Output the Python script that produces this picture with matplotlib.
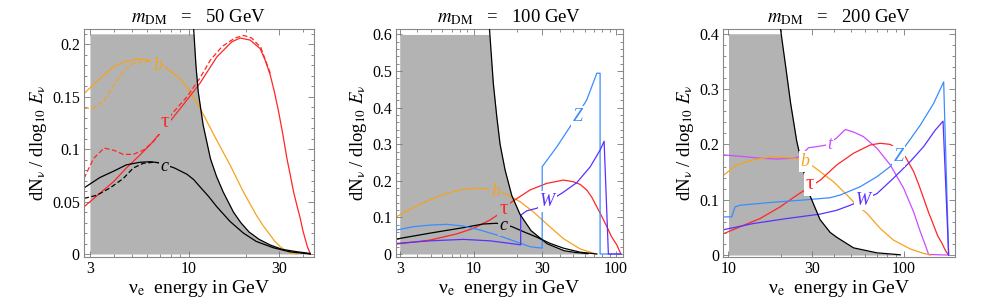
import numpy as np
import matplotlib
matplotlib.use("Agg")
import matplotlib.pyplot as plt
from matplotlib.ticker import FixedLocator, LogLocator, MultipleLocator, NullFormatter

plt.rcParams['font.family'] = ['Liberation Serif', 'DejaVu Serif']
plt.rcParams['mathtext.fontset'] = 'stix'

GRAY = '#b3b3b3'
ORANGE = '#f5a21e'
RED = '#ff2626'
ZBLUE = '#3a8cff'
WVIOL = '#5a30ff'
TMAG = '#cc4cff'

# ---------------- m_DM = 50 GeV ----------------
p1_bound_x = [10.6, 10.9, 11.2, 11.9, 13.0, 14.0, 15.2, 17.2, 18.8, 20.8, 23.5, 26.9, 31.0, 37.1, 43.8]
p1_bound_y = [0.215, 0.18, 0.155, 0.123, 0.091, 0.074, 0.059, 0.040, 0.030, 0.021, 0.014, 0.0086, 0.0045, 0.0022, 0.0005]

p1_b_x = [2.79, 3.39, 4.0, 4.67, 5.41, 6.1, 7.45, 8.98, 10.15, 11.46, 13.9, 16.5, 19.4, 22.7, 24.7, 26.9, 28.5,
          30.4, 32.3, 34.3, 37.1]
p1_b_y = [0.153, 0.1675, 0.1786, 0.184, 0.186, 0.185, 0.1786, 0.1675, 0.155, 0.139, 0.110, 0.085, 0.0594, 0.0372,
          0.027, 0.0181, 0.012, 0.007, 0.0035, 0.001, 0.0]
p1_bd_x = [2.79, 3.13, 3.56, 4.0, 4.5, 5.08, 5.74, 6.5, 7.45]
p1_bd_y = [0.139, 0.139, 0.146, 0.161, 0.174, 0.182, 0.1834, 0.184, 0.1786]

p1_tau_x = [2.79, 3.39, 4.0, 4.67, 5.41, 6.23, 7.17, 8.16, 9.78, 11.46, 14.06, 16.9, 18.7, 21.1, 23.8, 25.3,
            26.9, 28.3, 29.8, 31.4, 33.0, 34.4, 35.8, 37.3, 38.8, 40.0, 41.1, 42.5, 43.8]
p1_tau_y = [0.045, 0.058, 0.069, 0.082, 0.093, 0.104, 0.117, 0.129, 0.147, 0.163, 0.188, 0.2025, 0.206, 0.204,
            0.196, 0.185, 0.171, 0.155, 0.136, 0.114, 0.091, 0.075, 0.059, 0.046, 0.034, 0.023, 0.015, 0.006, 0.0007]
p1_taud_x = [2.79, 3.13, 3.56, 4.0, 4.5, 5.08, 5.74, 6.48, 7.04, 8.16, 9.78, 11.46, 13.0, 15.0, 17.5, 19.5, 21.5,
             24.0, 27.0]
p1_taud_y = [0.072, 0.091, 0.101, 0.099, 0.095, 0.095, 0.099, 0.107, 0.115, 0.134, 0.150, 0.168, 0.185, 0.198,
             0.206, 0.2085, 0.206, 0.197, 0.172]

p1_c_x = [2.79, 3.39, 4.0, 4.67, 5.52, 6.23, 6.99, 8.4, 9.78, 10.6, 11.46, 12.7, 14.06, 16.52, 19.4, 22.7, 27.9,
          34.3, 43.8]
p1_c_y = [0.063, 0.073, 0.079, 0.085, 0.0875, 0.088, 0.087, 0.082, 0.076, 0.071, 0.064, 0.055, 0.045, 0.031, 0.020,
          0.012, 0.006, 0.002, 0.0]
p1_cd_x = [2.79, 3.26, 3.83, 4.5, 5.08, 5.74, 6.48, 6.99]
p1_cd_y = [0.053, 0.056, 0.063, 0.072, 0.082, 0.0865, 0.0875, 0.087]

# ---------------- m_DM = 100 GeV ----------------
p2_bound_x = [12.83, 13.68, 14.47, 15.26, 16.54, 18.44, 21.1, 25.2, 32.7, 43.1, 52.0, 63.5]
p2_bound_y = [0.62, 0.466, 0.375, 0.30, 0.23, 0.16, 0.108, 0.064, 0.028, 0.009, 0.004, 0.001]

p2_b_x = [2.85, 3.74, 4.9, 6.43, 8.41, 10.45, 12.3, 17.0, 21.1, 26.2, 32.5, 42.6, 55.8, 72.4]
p2_b_y = [0.102, 0.127, 0.148, 0.166, 0.177, 0.180, 0.178, 0.163, 0.143, 0.115, 0.082, 0.042, 0.014, 0.0]

p2_tau_x = [2.85, 4.9, 7.56, 9.9, 12.97, 14.8, 17.9, 24.8, 32.5, 42.6, 50.1, 56.0, 62.2, 67.5, 73.2, 79.5, 86.1,
            93.0, 101.2, 108]
p2_tau_y = [0.027, 0.038, 0.055, 0.070, 0.093, 0.108, 0.139, 0.175, 0.193, 0.202, 0.1975, 0.19, 0.175, 0.155,
            0.129, 0.102, 0.075, 0.047, 0.025, 0.0]

p2_c_x = [2.85, 4.9, 8.41, 11.6, 14.47, 18.44, 22.3, 27.7, 34.3, 42.6, 55.8, 73.2]
p2_c_y = [0.041, 0.057, 0.072, 0.082, 0.084, 0.075, 0.061, 0.046, 0.029, 0.016, 0.005, 0.0]

p2_Z_x = [2.85, 3.74, 4.9, 6.43, 8.41, 11.03, 14.47, 18.9, 24.8, 30.2, 30.2, 38.3, 47.5, 62.2, 73.2, 77.2, 77.2, 108]
p2_Z_y = [0.0656, 0.0746, 0.079, 0.081, 0.0765, 0.0656, 0.052, 0.0363, 0.020, 0.016, 0.2385, 0.293, 0.348, 0.421,
          0.494, 0.494, 0.0, 0.0]

p2_W_x = [2.85, 4.9, 8.41, 12.97, 17.9, 21.3, 21.3, 23.5, 27.7, 41.5, 52.9, 65.7, 77.2, 82.4, 88.3, 108]
p2_W_y = [0.029, 0.036, 0.040, 0.036, 0.029, 0.025, 0.106, 0.118, 0.125, 0.166, 0.195, 0.238, 0.284, 0.308, 0.0, 0.0]

# ---------------- m_DM = 200 GeV ----------------
p3_bound_x = [19.82, 21.17, 22.6, 24.5, 26.8, 29.2, 33.3, 38.0, 41.5, 51.7, 70.3, 95.5]
p3_bound_y = [0.408, 0.342, 0.275, 0.206, 0.152, 0.107, 0.064, 0.041, 0.032, 0.013, 0.004, 0.0005]

p3_t_x = [9.43, 12.15, 15.14, 18.86, 23.46, 25.6, 27.4, 28.6, 31.9, 36.4, 41.5, 46.4, 52.0, 58.9, 70.3, 83.7, 99.7,
          113.8, 124.3, 132.7, 138.6, 180]
p3_t_y = [0.181, 0.178, 0.175, 0.1735, 0.175, 0.178, 0.188, 0.194, 0.196, 0.199, 0.212, 0.227, 0.222, 0.214, 0.193,
          0.163, 0.121, 0.078, 0.042, 0.018, 0.001, 0.0]

p3_b_x = [9.43, 11.14, 13.86, 17.26, 21.5, 23.99, 30.5, 36.4, 39.7, 47.4, 54.0, 61.6, 73.4, 87.4, 108.9, 129.8, 141.7]
p3_b_y = [0.145, 0.163, 0.172, 0.177, 0.176, 0.175, 0.160, 0.1416, 0.1326, 0.1085, 0.090, 0.0754, 0.048, 0.027,
          0.011, 0.003, 0.0]

p3_tau_x = [9.43, 11.63, 15.14, 19.7, 24.5, 28.0, 33.3, 41.5, 51.7, 64.4, 73.4, 83.7, 91.4, 102, 113.8, 121.5,
            129.8, 138.5, 148, 156, 165.3, 173, 180.3]
p3_tau_y = [0.039, 0.051, 0.066, 0.087, 0.108, 0.120, 0.135, 0.163, 0.184, 0.199, 0.202, 0.200, 0.192, 0.178, 0.151,
            0.128, 0.1025, 0.077, 0.054, 0.035, 0.021, 0.008, 0.0]

p3_Z_x = [9.43, 10.43, 10.9, 11.63, 17.26, 26.8, 38.0, 43.4, 56.4, 70.3, 83.7, 106.5, 124.3, 148, 168.9, 180.3]
p3_Z_y = [0.069, 0.069, 0.087, 0.090, 0.095, 0.0995, 0.1036, 0.1085, 0.1235, 0.1416, 0.160, 0.205, 0.235, 0.274,
          0.313, 0.0]

p3_W_x = [9.43, 13.86, 21.5, 33.3, 41.5, 49.5, 70.3, 87.4, 108.9, 129.8, 151.4, 167.5, 180.3]
p3_W_y = [0.046, 0.057, 0.066, 0.074, 0.081, 0.090, 0.111, 0.139, 0.169, 0.196, 0.226, 0.242, 0.0]

# panel settings: mass, x range, y range, gray box (left edge, top), tick labels
masses = [50, 100, 200]
xlims = [(2.79, 45.6), (2.825, 111), (9.34, 196)]
ylims = [(-0.0026, 0.2143), (-0.0074, 0.614), (-0.003, 0.408)]
gray_left = [3, 3, 10]
gray_top = [0.21, 0.6, 0.4]
xticks = [[3, 10, 30], [3, 10, 30, 100], [10, 30, 100]]
yticks = [[0, 0.05, 0.1, 0.15, 0.2], [0, 0.1, 0.2, 0.3, 0.4, 0.5, 0.6], [0, 0.1, 0.2, 0.3, 0.4]]
yticklabels = [['0', '0.05', '0.1', '0.15', '0.2'],
               ['0', '0.1', '0.2', '0.3', '0.4', '0.5', '0.6'],
               ['0', '0.1', '0.2', '0.3', '0.4']]
yminor = [0.01, 0.02, 0.02]

# labels: text, x, y, colour, italic, background
p1_labels = [('b', 6.84, 0.1796, ORANGE, True, GRAY), ('τ', 7.45, 0.1256, RED, False, GRAY),
             ('c', 7.45, 0.0833, 'k', True, GRAY)]
p2_labels = [('b', 14.2, 0.172, ORANGE, True, GRAY), ('τ', 16.1, 0.121, RED, False, GRAY),
             ('c', 16.2, 0.077, 'k', True, GRAY), ('Z', 53.8, 0.375, ZBLUE, True, 'white'),
             ('W', 32.9, 0.143, WVIOL, True, 'white')]
p3_labels = [('t', 38.0, 0.199, TMAG, True, 'white'), ('b', 27.4, 0.169, ORANGE, True, 'white'),
             ('τ', 29.2, 0.128, RED, False, 'white'), ('Z', 93.4, 0.178, ZBLUE, True, 'white'),
             ('W', 58.9, 0.0995, WVIOL, True, 'white')]

fig = plt.figure(figsize=(9.81, 3.07), dpi=100)
lefts = [84 / 981, 396 / 981, 723.3 / 981]
widths = [229.5 / 981, 226.5 / 981, 231.7 / 981]
axes = [fig.add_axes([lefts[i], 0.1638, widths[i], 0.7407]) for i in range(3)]

bounds = [(p1_bound_x, p1_bound_y), (p2_bound_x, p2_bound_y), (p3_bound_x, p3_bound_y)]
curves = [
    [(p1_b_x, p1_b_y, ORANGE, '-'), (p1_bd_x, p1_bd_y, ORANGE, '--'),
     (p1_tau_x, p1_tau_y, RED, '-'), (p1_taud_x, p1_taud_y, RED, '--'),
     (p1_c_x, p1_c_y, 'k', '-'), (p1_cd_x, p1_cd_y, 'k', '--')],
    [(p2_b_x, p2_b_y, ORANGE, '-'), (p2_tau_x, p2_tau_y, RED, '-'), (p2_c_x, p2_c_y, 'k', '-'),
     (p2_Z_x, p2_Z_y, ZBLUE, '-'), (p2_W_x, p2_W_y, WVIOL, '-')],
    [(p3_t_x, p3_t_y, TMAG, '-'), (p3_b_x, p3_b_y, ORANGE, '-'), (p3_tau_x, p3_tau_y, RED, '-'),
     (p3_Z_x, p3_Z_y, ZBLUE, '-'), (p3_W_x, p3_W_y, WVIOL, '-')],
]
labels = [p1_labels, p2_labels, p3_labels]

for i, ax in enumerate(axes):
    bx, by = bounds[i]
    fx = np.r_[gray_left[i], bx]
    fy = np.minimum(np.r_[gray_top[i], by], gray_top[i])
    ax.fill_between(fx, 0, fy, color=GRAY, lw=0, zorder=1)
    ax.plot(bx, by, color='k', lw=0.9, zorder=3)
    for x, y, col, ls in curves[i]:
        line, = ax.plot(x, y, color=col, lw=0.9, ls=ls, zorder=2)
        if ls == '--':
            line.set_dashes((4, 2))
    for txt, x, y, col, it, bg in labels[i]:
        fs = 15 if txt == 'τ' else 13
        ax.text(x, y, txt, color=col, fontsize=fs, style='italic' if it else 'normal',
                ha='center', va='center', zorder=4,
                bbox=dict(boxstyle='square,pad=0.1', fc=bg, ec='none'))

    ax.set_xscale('log')
    ax.set_xlim(*xlims[i])
    ax.set_ylim(*ylims[i])
    ax.xaxis.set_major_locator(FixedLocator(xticks[i]))
    ax.set_xticklabels([str(v) for v in xticks[i]])
    ax.xaxis.set_minor_locator(LogLocator(base=10, subs=range(1, 10)))
    ax.xaxis.set_minor_formatter(NullFormatter())
    ax.set_yticks(yticks[i])
    ax.set_yticklabels(yticklabels[i])
    ax.yaxis.set_minor_locator(MultipleLocator(yminor[i]))
    ax.tick_params(which='both', direction='in', top=True, right=True, colors='#777777',
                   labelcolor='black', labelsize=11.5, width=0.6)
    ax.tick_params(which='major', length=4, pad=3)
    ax.tick_params(which='minor', length=2)
    for s in ax.spines.values():
        s.set_color('#888888')
        s.set_linewidth(0.8)
    ax.set_xlabel('ν$_{\\rm e}$  energy in GeV', fontsize=14, labelpad=1)
    ax.set_ylabel('dN$_{\\mathrm{\\nu}}$ / dlog$_{10}$ $E_{\\mathrm{\\nu}}$', fontsize=13.5, labelpad=2)
    ax.set_title('$m_{\\rm DM}$   =   %d GeV' % masses[i], fontsize=13.5, pad=5)

fig.savefig('out.png', dpi=100)
